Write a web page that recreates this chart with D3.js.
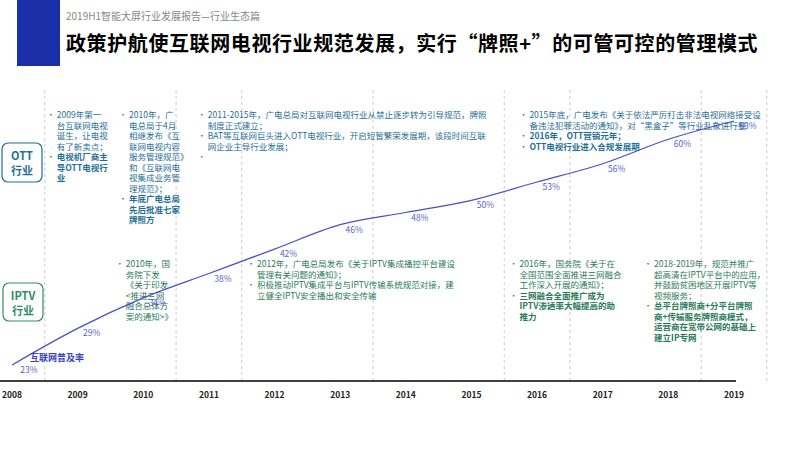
<!DOCTYPE html>
<html><head><meta charset="utf-8">
<script src="https://cdn.jsdelivr.net/npm/d3@7"></script>
<style>body{margin:0;background:#fff}svg{font-family:"Noto Sans CJK SC","Microsoft YaHei",sans-serif}</style>
</head><body>
<script>
const years = ["2008","2009","2010","2011","2012","2013","2014","2015","2016","2017","2018","2019"];
const rate = [23, 29, 34, 38, 42, 46, 48, 50, 53, 56, 60, 63];
const dividers = [2008.5, 2010.5, 2011.5, 2013.5, 2015.5, 2016.5, 2018.5, 2019.5];

// [year position of bullet, [ [bold, lines...], ... ] ]
const ottNotes = [
  [2008.5, [[0,"2009年第一","台互联网电视","诞生，让电视","有了新卖点；"],[1,"电视机厂商主","导OTT电视行","业"]]],
  [2009.6, [[0,"2010年，广","电总局于4月","相继发布《互","联网电视内容","服务管理规范》","和《互联网电","视集成业务管","理规范》；"],[1,"年底广电总局","先后批准七家","牌照方"]]],
  [2010.8, [[0,"2011-2015年，广电总局对互联网电视行业从禁止逐步转为引导规范，牌照","制度正式建立；"],[0,"BAT等互联网巨头进入OTT电视行业，开启短暂繁荣发展期，该段时间互联","网企业主导行业发展；"],[0,""]]],
  [2015.7, [[0,"2015年底，广电发布《关于依法严厉打击非法电视网络接受设","备违法犯罪活动的通知》，对“黑盒子”等行业乱象进行整"],[1,"2016年，OTT营销元年；"],[1,"OTT电视行业进入合规发展期"]]]
];
const iptvNotes = [
  [2009.55, [[0,"2010年，国","务院下发","《关于印发","<推进三网","融合总体方","案的通知>》"]]],
  [2011.55, [[0,"2012年，广电总局发布《关于IPTV集成播控平台建设","管理有关问题的通知》；"],[0,"积极推动IPTV集成平台与IPTV传输系统规范对接，建","立健全IPTV安全播出和安全传输"]]],
  [2015.55, [[0,"2016年，国务院《关于在","全国范围全面推进三网融合","工作深入开展的通知》；"],[1,"三网融合全面推广成为","IPTV渗透率大幅提高的助","推力"]]],
  [2017.6, [[0,"2018-2019年，规范并推广","超高清在IPTV平台中的应用，","并鼓励贫困地区开展IPTV等","视频服务；"],[1,"总平台牌照商+分平台牌照","商+传输服务牌照商模式，","运营商在宽带公网的基础上","建立IP专网"]]]
];

const svg = d3.select("body").append("svg").attr("width", 800).attr("height", 450);

// header
svg.append("rect").attr("x", 17).attr("y", 0).attr("width", 43).attr("height", 66).attr("fill", "#1a2fa8");
svg.append("text").attr("x", 66).attr("y", 20).attr("font-size", 10).attr("fill", "#888")
  .text("2019H1智能大屏行业发展报告—行业生态篇");
svg.append("text").attr("x", 66).attr("y", 51).attr("font-size", 20).attr("letter-spacing", 0.6)
  .attr("font-weight", "bold").attr("fill", "#000")
  .text("政策护航使互联网电视行业规范发展，实行“牌照+”的可管可控的管理模式");

const x = d3.scaleLinear().domain([2008, 2019]).range([12, 734]);
const y = d3.scaleLinear().domain([23, 63]).range([365, 121]);

// dividers
svg.selectAll("line.div").data(dividers).join("line")
  .attr("x1", d => x(d)).attr("x2", d => x(d)).attr("y1", 90).attr("y2", 381)
  .attr("stroke", "#ccc").attr("stroke-dasharray", "3,3");

// axis
svg.append("line").attr("x1", 0).attr("x2", 736).attr("y1", 381).attr("y2", 381).attr("stroke", "#000").attr("stroke-width", 1.5);
svg.selectAll("text.yr").data(years).join("text")
  .attr("x", (d, i) => x(2008 + i)).attr("y", 398).attr("text-anchor", "middle")
  .attr("font-size", 8.5).attr("font-weight", "bold").attr("fill", "#222").text(d => d);

// side boxes
function sideBox(bx, by, w, h, col, l1, l2) {
  svg.append("rect").attr("x", bx).attr("y", by).attr("width", w).attr("height", h).attr("rx", 6)
    .attr("fill", "#fff").attr("stroke", col).attr("stroke-width", 1.2);
  svg.append("text").attr("x", bx + w / 2).attr("y", by + 17).attr("text-anchor", "middle").attr("font-size", 11).attr("font-weight", "bold").attr("fill", col).text(l1);
  svg.append("text").attr("x", bx + w / 2).attr("y", by + 32).attr("text-anchor", "middle").attr("font-size", 11).attr("font-weight", "bold").attr("fill", col).text(l2);
}
sideBox(2, 143, 40, 39, "#1f6f95", "OTT", "行业");
sideBox(3, 283, 40, 38, "#2e8b6a", "IPTV", "行业");

// notes
function notes(data, y0, col) {
  data.forEach(([pos, groups]) => {
    const bx = x(pos) + 2;
    let yy = y0;
    groups.forEach(([bold, ...lines]) => {
      svg.append("text").attr("x", bx).attr("y", yy).attr("font-size", 8).attr("fill", col).text("•");
      lines.forEach(l => {
        svg.append("text").attr("x", bx + 10).attr("y", yy).attr("font-size", 8.5)
          .attr("font-weight", bold ? "bold" : "normal").attr("fill", col).text(l);
        yy += 10.5;
      });
    });
  });
}
notes(ottNotes, 118, "#1f6f95");
notes(iptvNotes, 267, "#2b7a5a");

// line
const pts = rate.map((v, i) => [x(2008 + i), y(v)]);
svg.append("path").attr("d", d3.line().curve(d3.curveMonotoneX)(pts)).attr("fill", "none").attr("stroke", "#4a4ec8").attr("stroke-width", 1.2);
svg.selectAll("text.lab").data(rate).join("text")
  .attr("x", (d, i) => x(2008 + i) + (i === 0 ? 17 : 14)).attr("y", d => y(d) + 8)
  .attr("text-anchor", "middle").attr("font-size", 8.5).attr("fill", "#5a5fd0").text(d => d + "%");
svg.append("text").attr("x", 30).attr("y", 361).attr("font-size", 9).attr("font-weight", "bold").attr("fill", "#3a3fc0").text("互联网普及率");
</script>
</body></html>
